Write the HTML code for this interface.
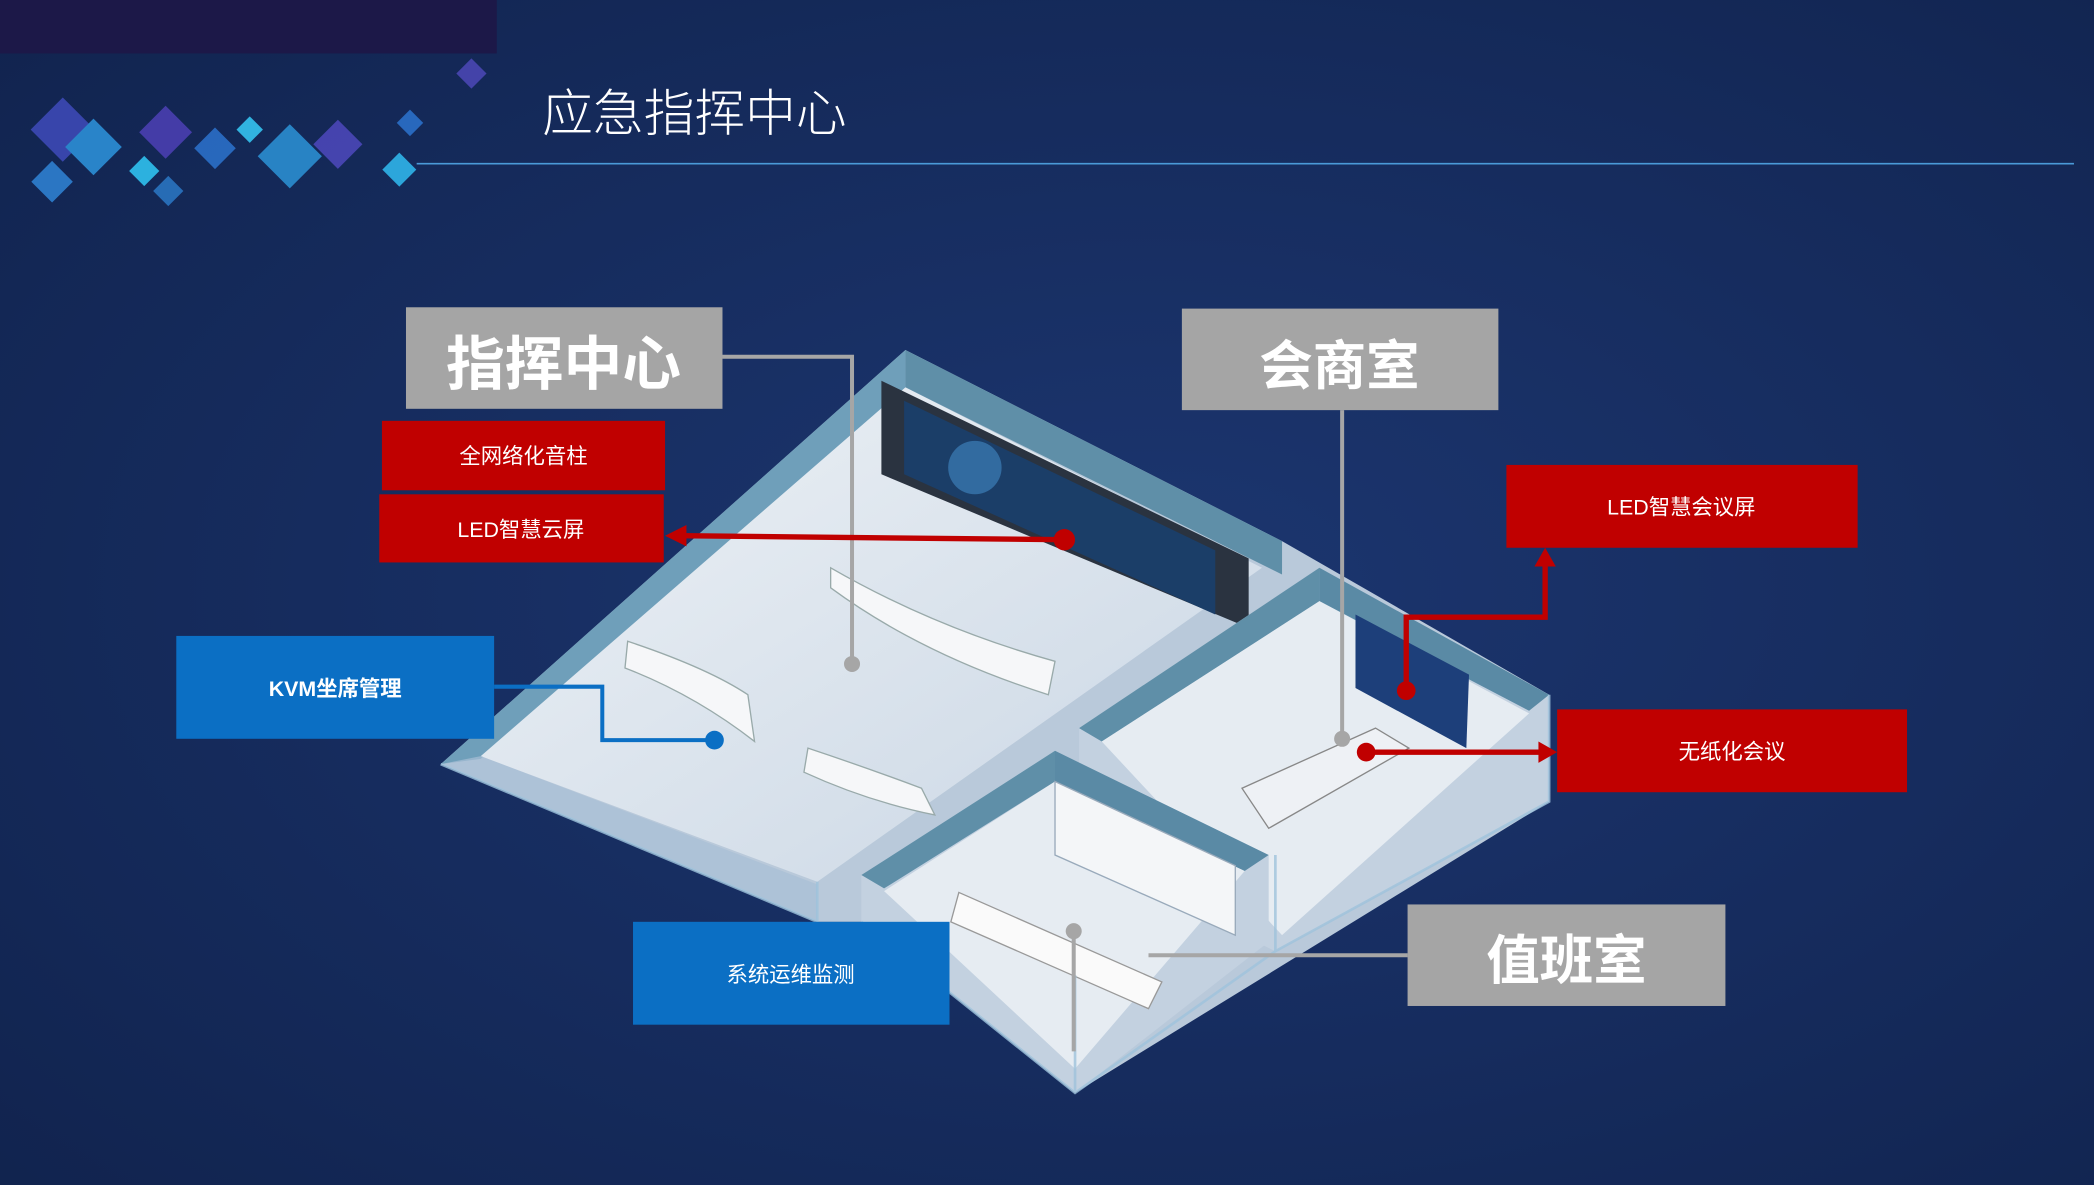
<!DOCTYPE html>
<html><head><meta charset="utf-8"><style>
html,body{margin:0;padding:0;background:#14285a;}
svg{display:block;}
text{font-family:"Liberation Sans","Noto Sans CJK SC",sans-serif;}
</style></head><body>
<svg width="2094" height="1185" viewBox="0 0 1568 887" preserveAspectRatio="none" xmlns="http://www.w3.org/2000/svg">
<defs>
<radialGradient id="bg" cx="0.55" cy="0.5" r="0.8">
<stop offset="0" stop-color="#1c3670"/><stop offset="1" stop-color="#10224c"/>
</radialGradient>
<linearGradient id="fl" x1="0" y1="0" x2="1" y2="1"><stop offset="0" stop-color="#eef2f6"/><stop offset="1" stop-color="#c9d6e4"/></linearGradient>
</defs>
<rect width="1568" height="887" fill="url(#bg)"/>
<rect x="0" y="0" width="372" height="40" fill="#1c1848"/>
<g opacity="0.9">
<rect x="30" y="80" width="34" height="34" fill="#3d49b5" transform="rotate(45 47 97)"/>
<rect x="55" y="95" width="30" height="30" fill="#2c8fd6" transform="rotate(45 70 110)"/>
<rect x="110" y="85" width="28" height="28" fill="#4a3fb0" transform="rotate(45 124 99)"/>
<rect x="100" y="120" width="16" height="16" fill="#2fc0ee" transform="rotate(45 108 128)"/>
<rect x="150" y="100" width="22" height="22" fill="#2b6fc8" transform="rotate(45 161 111)"/>
<rect x="180" y="90" width="14" height="14" fill="#35c3f0" transform="rotate(45 187 97)"/>
<rect x="200" y="100" width="34" height="34" fill="#2b8dd0" transform="rotate(45 217 117)"/>
<rect x="240" y="95" width="26" height="26" fill="#4b47b8" transform="rotate(45 253 108)"/>
<rect x="290" y="118" width="18" height="18" fill="#2fb4ea" transform="rotate(45 299 127)"/>
<rect x="345" y="47" width="16" height="16" fill="#4a46b2" transform="rotate(45 353 55)"/>
<rect x="28" y="125" width="22" height="22" fill="#2e7fd0" transform="rotate(45 39 136)"/>
<rect x="118" y="135" width="16" height="16" fill="#2a74c0" transform="rotate(45 126 143)"/>
<rect x="300" y="85" width="14" height="14" fill="#2b6fc8" transform="rotate(45 307 92)"/>
</g>
<text x="406" y="98" font-size="38" fill="#ffffff" font-weight="300">应急指挥中心</text>
<line x1="312" y1="122.5" x2="1553" y2="122.5" stroke="#4a9ad8" stroke-width="1.2"/>

<polygon points="330,572 678,262 960,405 1160,520 1160,600 805,818 645,690 612,690" fill="#b9c9da"/>
<polygon points="330,572 678,262 678,290 360,568" fill="#6f9fba"/>
<polygon points="678,262 960,405 960,430 678,290" fill="#5f8fa8"/>
<polygon points="360,566 678,290 945,425 612,660" fill="url(#fl)"/>
<polygon points="330,572 612,690 612,662 360,566" fill="#a8bfd6" opacity="0.7"/>
<polygon points="660,285 935,418 935,470 660,355" fill="#2a3340"/>
<polygon points="677,300 910,412 910,460 677,355" fill="#1b3e68"/>
<circle cx="730" cy="350" r="20" fill="#3c7fb8" opacity="0.7"/>
<path d="M622,425 Q700,470 790,495 L785,520 Q690,490 622,440 Z" fill="#f6f7f9" stroke="#9aa" stroke-width="1"/>
<path d="M470,480 Q530,500 560,520 L565,555 Q520,520 468,500 Z" fill="#f6f7f9" stroke="#9aa" stroke-width="1"/>
<path d="M605,560 Q650,575 690,590 L700,610 Q650,600 602,578 Z" fill="#f6f7f9" stroke="#9aa" stroke-width="1"/>
<polygon points="808,545 988,425 1160,520 1160,600 955,712 808,640" fill="#c3d1e0"/>
<polygon points="808,545 988,425 988,450 825,555" fill="#5f8fa8"/>
<polygon points="988,425 1160,520 1145,532 988,450" fill="#5a8aa5"/>
<polygon points="825,555 988,450 1145,534 960,700" fill="#e6ecf2"/>
<polygon points="1015,460 1100,505 1098,560 1015,515" fill="#1d3f7a"/>
<polygon points="930,590 1030,545 1055,560 950,620" fill="#eef1f5" stroke="#888" stroke-width="1"/>
<polygon points="645,655 790,562 950,640 950,705 805,818 645,690" fill="#c3d1e0"/>
<polygon points="645,655 790,562 790,585 662,665" fill="#5f8fa8"/>
<polygon points="790,562 950,640 932,652 790,585" fill="#5a8aa5"/>
<polygon points="662,667 790,585 932,652 805,800" fill="#e6ecf2"/>
<polygon points="790,585 925,648 925,700 790,640" fill="#f4f6f8" stroke="#9ab" stroke-width="1"/>
<path d="M718,668 L870,735 L860,755 L712,690 Z" fill="#fafafa" stroke="#999" stroke-width="1"/>
<g stroke="#9fc3dc" stroke-width="2" fill="none" opacity="0.8">
<polyline points="330,572 612,690 612,660"/>
<polyline points="645,690 805,818 955,712 1160,600 1160,520"/>
<line x1="805" y1="818" x2="805" y2="730"/>
<line x1="955" y1="712" x2="955" y2="640"/>
</g>

<polyline points="541,267 638,267 638,497" fill="none" stroke="#a6a6a6" stroke-width="3"/>
<circle cx="638" cy="497" r="6" fill="#a6a6a6"/>
<polyline points="1005,307 1005,553" fill="none" stroke="#a6a6a6" stroke-width="3"/>
<circle cx="1005" cy="553" r="6" fill="#a6a6a6"/>
<polyline points="1054,715 860,715" fill="none" stroke="#a6a6a6" stroke-width="3"/>
<polyline points="804,697 804,787" fill="none" stroke="#a6a6a6" stroke-width="3"/>
<circle cx="804" cy="697" r="6" fill="#a6a6a6"/>
<line x1="797" y1="404" x2="510" y2="401" stroke="#c00000" stroke-width="4"/>
<polygon points="498,401 514,393 514,409" fill="#c00000"/>
<circle cx="797" cy="404" r="8" fill="#c00000"/>
<polyline points="1053,517 1053,462 1157,462 1157,420" fill="none" stroke="#c00000" stroke-width="4"/>
<polygon points="1157,410 1149,424 1165,424" fill="#c00000"/>
<circle cx="1053" cy="517" r="7" fill="#c00000"/>
<line x1="1023" y1="563" x2="1155" y2="563" stroke="#c00000" stroke-width="4"/>
<polygon points="1166,563 1152,555 1152,571" fill="#c00000"/>
<circle cx="1023" cy="563" r="7" fill="#c00000"/>
<polyline points="370,514 451,514 451,554 535,554" fill="none" stroke="#0b6fc4" stroke-width="3"/>
<circle cx="535" cy="554" r="7" fill="#0b6fc4"/>

<rect x="304" y="230" width="237" height="76" fill="#a5a5a5"/>
<text x="422" y="288" font-size="44" fill="#fff" font-weight="bold" text-anchor="middle">指挥中心</text>
<rect x="885" y="231" width="237" height="76" fill="#a5a5a5"/>
<text x="1003" y="288" font-size="40" fill="#fff" font-weight="bold" text-anchor="middle">会商室</text>
<rect x="1054" y="677" width="238" height="76" fill="#a5a5a5"/>
<text x="1173" y="733" font-size="40" fill="#fff" font-weight="bold" text-anchor="middle">值班室</text>
<rect x="286" y="315" width="212" height="52" fill="#c00000"/>
<text x="392" y="347" font-size="16" fill="#fff" text-anchor="middle">全网络化音柱</text>
<rect x="284" y="370" width="213" height="51" fill="#c00000"/>
<text x="390" y="402" font-size="16" fill="#fff" text-anchor="middle">LED智慧云屏</text>
<rect x="1128" y="348" width="263" height="62" fill="#c00000"/>
<text x="1259" y="385" font-size="16" fill="#fff" text-anchor="middle">LED智慧会议屏</text>
<rect x="1166" y="531" width="262" height="62" fill="#c00000"/>
<text x="1297" y="568" font-size="16" fill="#fff" text-anchor="middle">无纸化会议</text>
<rect x="132" y="476" width="238" height="77" fill="#0b6fc4"/>
<text x="251" y="521" font-size="16" fill="#fff" font-weight="bold" text-anchor="middle">KVM坐席管理</text>
<rect x="474" y="690" width="237" height="77" fill="#0b6fc4"/>
<text x="592" y="735" font-size="16" fill="#fff" text-anchor="middle">系统运维监测</text>
</svg>
</body></html>
